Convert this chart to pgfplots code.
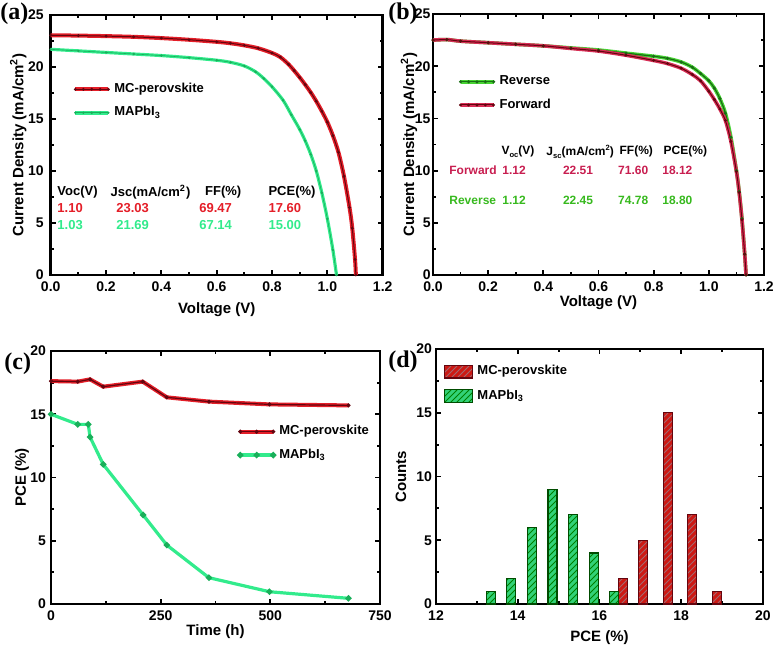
\documentclass[border=0pt]{standalone}
\usepackage{pgfplots}
\pgfplotsset{compat=1.18}
\usepackage{pgfplotstable}
\usepackage{fontspec}
\setmainfont{Liberation Sans}
\newfontfamily\serifb{Liberation Serif}
\usetikzlibrary{patterns}

\definecolor{mcred}{RGB}{228,30,40}
\definecolor{mcdark}{RGB}{100,5,15}
\definecolor{mgreen}{RGB}{50,235,140}
\definecolor{mgreendark}{RGB}{25,175,90}
\definecolor{revgreen}{RGB}{25,110,20}
\definecolor{revedge}{RGB}{70,210,50}
\definecolor{revtext}{RGB}{55,185,30}
\definecolor{fwdred}{RGB}{215,45,85}
\definecolor{fwdtext}{RGB}{200,30,80}
\definecolor{barred}{RGB}{205,25,20}
\definecolor{bargreen}{RGB}{50,210,120}

% (a) J-V curves
\pgfplotstableread{
V J
0.00 23.05
0.10 23.02
0.20 22.97
0.30 22.90
0.40 22.78
0.50 22.62
0.60 22.42
0.65 22.28
0.70 22.08
0.75 21.80
0.80 21.35
0.83 20.95
0.86 20.25
0.88 19.65
0.90 19.00
0.92 18.30
0.94 17.55
0.96 16.70
0.98 15.75
1.00 14.70
1.02 13.40
1.04 11.80
1.06 9.50
1.08 6.50
1.09 4.50
1.10 1.50
1.103 0.00
}\mcA
\pgfplotstableread{
V J
0.00 21.70
0.10 21.55
0.20 21.40
0.30 21.25
0.40 21.10
0.50 20.90
0.60 20.65
0.65 20.45
0.70 20.10
0.74 19.55
0.77 18.90
0.80 18.10
0.84 16.80
0.87 15.40
0.90 14.00
0.92 12.90
0.94 11.60
0.96 10.00
0.98 7.90
1.00 5.40
1.02 2.40
1.033 0.00
}\maA

% (b) reverse / forward scans
\pgfplotstableread{
V J
0.00 22.50
0.05 22.55
0.10 22.40
0.20 22.25
0.30 22.10
0.40 21.95
0.50 21.75
0.60 21.55
0.70 21.25
0.80 20.95
0.85 20.75
0.90 20.40
0.94 19.90
0.97 19.30
1.00 18.60
1.02 17.90
1.04 16.90
1.06 15.50
1.08 13.20
1.10 10.00
1.11 8.00
1.12 5.40
1.13 2.00
1.135 0.00
}\rev
\pgfplotstableread{
V J
0.00 22.50
0.05 22.55
0.10 22.40
0.20 22.25
0.30 22.10
0.40 21.95
0.50 21.70
0.60 21.45
0.70 21.05
0.80 20.55
0.85 20.25
0.90 19.80
0.94 19.20
0.97 18.60
1.00 17.60
1.02 16.80
1.04 15.90
1.06 14.80
1.08 12.80
1.10 9.90
1.11 7.90
1.12 5.30
1.13 2.00
1.135 0.00
}\fwd

% (c) stability
\pgfplotstableread{
t P
0 17.62
61 17.58
89 17.76
119 17.18
209 17.58
264 16.34
360 16.00
498 15.78
678 15.70
}\mcC
\pgfplotstableread{
t P
0 15.00
61 14.20
85 14.20
89 13.20
119 11.04
210 7.04
264 4.66
360 2.08
498 0.97
678 0.45
}\maC

% (d) histogram
\pgfplotstableread{
x n
16.57 2
17.06 5
17.68 15
18.27 7
18.88 1
}\mcD
\pgfplotstableread{
x n
13.35 1
13.84 2
14.35 6
14.85 9
15.36 7
15.86 4
16.35 1
}\maD

\pgfplotsset{
  panel/.style={
    scale only axis, anchor=north west,
    font=\bfseries\fontsize{7}{8}\selectfont,
    tick label style={font=\bfseries\fontsize{7}{8}\selectfont},
    label style={font=\bfseries\fontsize{7.5}{9}\selectfont},
    axis line style={line width=1.3pt},
    tick align=inside, minor tick num=1,
    major tick length=2.4pt, minor tick length=1.4pt,
    tick style={black, line width=0.9pt},
    /pgf/number format/assume math mode=true,
    legend cell align=left,
    legend style={draw=none, fill=none, font=\bfseries\fontsize{6.5}{7.5}\selectfont,
      inner sep=0pt, row sep=1.5pt, anchor=north west},
  },
  labs/.style 2 args={
    ylabel style={at={([xshift=-#1]rel axis cs:0,0.5)}, anchor=center},
    xlabel style={at={([yshift=-#2]rel axis cs:0.5,0)}, anchor=center},
  },
  duo/.style 2 args={legend image code/.code={
    \draw[#1, line width=2pt] (0pt,0pt) -- (16.5pt,0pt);
    \draw[#2] plot coordinates {(0pt,0pt) (4pt,0pt) (8.2pt,0pt) (12.4pt,0pt) (16.5pt,0pt)};}},
  duo3/.style 2 args={legend image code/.code={
    \draw[#1, line width=2pt] (0pt,0pt) -- (16.5pt,0pt);
    \draw[#2] plot coordinates {(0pt,0pt) (8.2pt,0pt) (16.5pt,0pt)};}},
}
\tikzset{tbl/.style={anchor=west, inner sep=0pt, font=\bfseries\fontsize{6.5}{7.5}\selectfont},
  tblb/.style={anchor=west, inner sep=0pt, font=\bfseries\fontsize{6}{7}\selectfont},
  letter/.style={anchor=north west, inner sep=0pt, font=\serifb\bfseries\fontsize{12}{13}\selectfont}}
\newcommand{\tinysub}[1]{\raisebox{-0.45ex}{\fontsize{3.8}{4}\selectfont #1}}
\newcommand{\tinysup}[1]{\raisebox{0.9ex}{\fontsize{3.8}{4}\selectfont #1}}

\begin{document}
\begin{tikzpicture}
\useasboundingbox (0,0) rectangle (391pt,-324.5pt);

% ---------- (a)
\begin{axis}[panel, at={(25.35pt,-7.5pt)}, width=166pt, height=130pt,
  labs={16.2pt}{17.5pt},
  xmin=0, xmax=1.2, ymin=0, ymax=25,
  xtick={0,0.2,...,1.2}, ytick={0,5,...,25},
  xticklabel style={/pgf/number format/.cd, fixed, fixed zerofill, precision=1},
  xlabel={Voltage (V)}, ylabel={Current Density (mA/cm\textsuperscript{2})},
  legend style={at={(0.067,0.755)}}]
  \addplot[mcred, line width=2pt, smooth, forget plot] table {\mcA};
  \addplot[mcdark, line width=0.5pt, smooth, mark=*, mark size=0.45pt,
    duo={mcred}{mcdark, line width=0.5pt, mark=*, mark size=0.45pt}] table {\mcA};
  \addlegendentry{MC-perovskite}
  \addplot[mgreen, line width=1.6pt, smooth, forget plot] table {\maA};
  \addplot[mgreendark, line width=0.3pt, smooth, mark=*, mark size=0.45pt,
    duo={mgreen}{mgreendark, line width=0.3pt, mark=*, mark size=0.45pt}] table {\maA};
  \addlegendentry{MAPbI\textsubscript{3}}
  \node[tbl] at (axis cs:0.023,7.98) {Voc(V)};
  \node[tbl] at (axis cs:0.215,7.98) {Jsc(mA/cm\textsuperscript{2})};
  \node[tbl] at (axis cs:0.557,7.98) {FF(\%)};
  \node[tbl] at (axis cs:0.786,7.98) {PCE(\%)};
  \node[tbl, text=mcred] at (axis cs:0.023,6.44) {1.10};
  \node[tbl, text=mcred] at (axis cs:0.236,6.44) {23.03};
  \node[tbl, text=mcred] at (axis cs:0.536,6.44) {69.47};
  \node[tbl, text=mcred] at (axis cs:0.786,6.44) {17.60};
  \node[tbl, text=mgreen] at (axis cs:0.023,4.8) {1.03};
  \node[tbl, text=mgreen] at (axis cs:0.236,4.8) {21.69};
  \node[tbl, text=mgreen] at (axis cs:0.536,4.8) {67.14};
  \node[tbl, text=mgreen] at (axis cs:0.786,4.8) {15.00};
\end{axis}

% ---------- (b)
\begin{axis}[panel, at={(216.5pt,-7pt)}, width=165.5pt, height=130.5pt,
  labs={12pt}{14pt},
  yticklabel style={xshift=2.3pt},
  xmin=0, xmax=1.2, ymin=0, ymax=25,
  xtick={0,0.2,...,1.2}, ytick={0,5,...,25},
  xticklabel style={/pgf/number format/.cd, fixed, fixed zerofill, precision=1},
  xlabel={Voltage (V)}, ylabel={Current Density (mA/cm\textsuperscript{2})},
  legend style={at={(0.076,0.78)}}]
  \addplot[revedge, line width=1.8pt, smooth, forget plot] table {\rev};
  \addplot[revgreen, line width=0.6pt, smooth, mark=*, mark size=0.45pt,
    duo={revedge}{revgreen, line width=0.6pt, mark=*, mark size=0.45pt}] table {\rev};
  \addlegendentry{Reverse}
  \addplot[fwdred, line width=1.8pt, smooth, forget plot] table {\fwd};
  \addplot[mcdark, line width=0.5pt, smooth, mark=*, mark size=0.45pt,
    duo={fwdred}{mcdark, line width=0.5pt, mark=*, mark size=0.45pt}] table {\fwd};
  \addlegendentry{Forward}
  \node[tblb] at (axis cs:0.247,11.8) {V\tinysub{oc}(V)};
  \node[tblb] at (axis cs:0.41,11.8) {J\tinysub{sc}(mA/cm\tinysup{2})};
  \node[tblb] at (axis cs:0.675,11.8) {FF(\%)};
  \node[tblb] at (axis cs:0.835,11.8) {PCE(\%)};
  \node[tblb, text=fwdtext] at (axis cs:0.058,10.07) {Forward};
  \node[tblb, text=fwdtext] at (axis cs:0.25,10.07) {1.12};
  \node[tblb, text=fwdtext] at (axis cs:0.47,10.07) {22.51};
  \node[tblb, text=fwdtext] at (axis cs:0.67,10.07) {71.60};
  \node[tblb, text=fwdtext] at (axis cs:0.83,10.07) {18.12};
  \node[tblb, text=revtext] at (axis cs:0.058,7.18) {Reverse};
  \node[tblb, text=revtext] at (axis cs:0.25,7.18) {1.12};
  \node[tblb, text=revtext] at (axis cs:0.47,7.18) {22.45};
  \node[tblb, text=revtext] at (axis cs:0.67,7.18) {74.78};
  \node[tblb, text=revtext] at (axis cs:0.83,7.18) {18.80};
\end{axis}

% ---------- (c)
\begin{axis}[panel, at={(25.5pt,-175.5pt)}, width=164.5pt, height=126.5pt,
  labs={14.5pt}{14pt},
  yticklabel style={xshift=1pt},
  xmin=0, xmax=750, ymin=0, ymax=20,
  xtick={0,250,500,750}, ytick={0,5,...,20},
  xlabel={Time (h)}, ylabel={PCE (\%)},
  legend style={at={(0.568,0.723)}}]
  \addplot[mcred, line width=2pt, forget plot] table {\mcC};
  \addplot[mcdark, line width=0.6pt, mark=*, mark size=0.7pt,
    duo3={mcred}{mcdark, line width=0.6pt, mark=*, mark size=0.7pt}] table {\mcC};
  \addlegendentry{MC-perovskite}
  \addplot[mgreen, line width=1.6pt, mark=*, mark size=0.6pt, mark options={fill=mgreendark, draw=mgreendark},
    duo3={mgreen}{mgreen, line width=1.6pt, mark=*, mark size=0.6pt, mark options={fill=mgreendark, draw=mgreendark}}] table {\maC};
  \addlegendentry{MAPbI\textsubscript{3}}
\end{axis}

% ---------- (d)
\begin{axis}[panel, at={(218pt,-174.5pt)}, width=163.5pt, height=127.5pt,
  labs={17.5pt}{17pt},
  yticklabel style={xshift=1.5pt},
  xmin=12, xmax=20, ymin=0, ymax=20,
  xtick={12,14,...,20}, ytick={0,5,...,20},
  xlabel={PCE (\%)}, ylabel={Counts},
  legend style={at={(0.024,0.953)}, row sep=2pt},
  legend image code/.code={\draw[#1] (0pt,-3.2pt) rectangle (14pt,3.2pt);}]
  \addplot[ybar, bar width=0.22, bar shift=0pt, draw=mcdark, line width=0.6pt, fill=barred,
    postaction={pattern=north east lines, pattern color=mcdark!60}] table {\mcD};
  \addlegendentry{MC-perovskite}
  \addplot[ybar, bar width=0.22, bar shift=0pt, draw=black!70!green, line width=0.6pt, fill=bargreen,
    postaction={pattern=north east lines, pattern color=black!50!green}] table {\maD};
  \addlegendentry{MAPbI\textsubscript{3}}
\end{axis}

% panel letters
\node[letter] at (0pt,-1pt) {(a)};
\node[letter] at (194pt,-1pt) {(b)};
\node[letter] at (2pt,-176pt) {(c)};
\node[letter] at (194pt,-175pt) {(d)};
\end{tikzpicture}
\end{document}
